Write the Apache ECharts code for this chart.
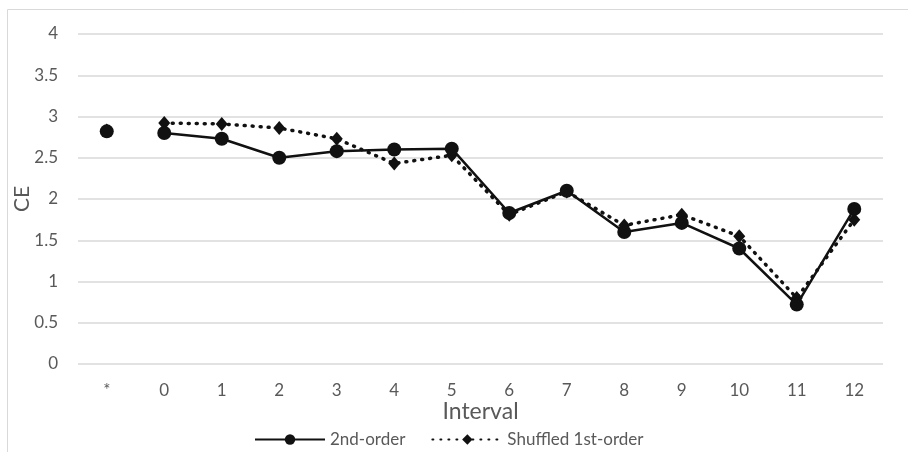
<!DOCTYPE html>
<html>
<head>
<meta charset="utf-8">
<script src="https://cdn.jsdelivr.net/npm/echarts@6/dist/echarts.min.js"></script>
<style>
html,body{margin:0;padding:0;background:#fff;}
#c{width:908px;height:452px;}
</style>
</head>
<body>
<div id="c"></div>
<script>
var categories = ['*', '0', '1', '2', '3', '4', '5', '6', '7', '8', '9', '10', '11', '12'];
var secondOrder = [2.82, 2.80, 2.73, 2.50, 2.58, 2.60, 2.61, 1.83, 2.10, 1.60, 1.71, 1.40, 0.72, 1.88];
var shuffledFirst = [2.83, 2.92, 2.91, 2.86, 2.73, 2.43, 2.53, 1.81, 2.09, 1.68, 1.81, 1.55, 0.80, 1.75];
var yTicks = [0, 0.5, 1, 1.5, 2, 2.5, 3, 3.5, 4];

var FONT = 'Lato';
var GRAY = '#595959';

function mainPart(arr) { return arr.map(function (v, i) { return i === 0 ? '-' : v; }); }
function starPart(arr) { return arr.map(function (v, i) { return i === 0 ? v : '-'; }); }

var chart = echarts.init(document.getElementById('c'), null, {renderer: 'canvas'});
chart.setOption({
  animation: false,
  textStyle: {fontFamily: FONT},
  graphic: [{
    type: 'rect', left: 5, top: 7, z: -1,
    shape: {width: 1000, height: 1000},
    style: {fill: 'none', stroke: '#d9d9d9', lineWidth: 1}
  }],
  grid: {left: 78, right: 25, top: 34, bottom: 88, containLabel: false, outerBoundsMode: 'none'},
  xAxis: {
    type: 'category', data: categories, boundaryGap: true,
    name: 'Interval', nameLocation: 'middle', nameGap: 36, nameMoveOverlap: false,
    nameTextStyle: {fontSize: 23, color: GRAY, fontFamily: FONT},
    axisLine: {show: false}, axisTick: {show: false},
    axisLabel: {fontSize: 17, color: GRAY, margin: 18, fontFamily: FONT}
  },
  yAxis: {
    type: 'value', min: yTicks[0], max: yTicks[yTicks.length - 1], interval: 0.5,
    name: 'CE', nameLocation: 'middle', nameGap: 45, nameRotate: 90, nameMoveOverlap: false,
    nameTextStyle: {fontSize: 21, color: GRAY, fontFamily: FONT},
    axisLine: {show: false}, axisTick: {show: false},
    axisLabel: {fontSize: 17, color: GRAY, margin: 20, fontFamily: FONT},
    splitLine: {lineStyle: {color: '#d9d9d9', width: 1.5}}
  },
  legend: {
    left: 249, top: 426, itemWidth: 70, itemHeight: 13, itemGap: 26,
    textStyle: {fontSize: 17, color: GRAY, fontFamily: FONT},
    data: ['2nd-order', 'Shuffled 1st-order']
  },
  series: [
    {
      name: '2nd-order', type: 'line', data: mainPart(secondOrder),
      symbol: 'circle', symbolSize: 14, showAllSymbol: true,
      itemStyle: {color: '#111'},
      lineStyle: {color: '#111', width: 2.5}, z: 3
    },
    {
      name: 'Shuffled 1st-order', type: 'line', data: mainPart(shuffledFirst),
      symbol: 'diamond', symbolSize: [12, 14], showAllSymbol: true,
      itemStyle: {color: '#111'},
      lineStyle: {color: '#111', width: 3.5, type: [1, 7], cap: 'round'}, z: 2
    },
    {
      name: '2nd-order*', type: 'line', data: starPart(secondOrder),
      symbol: 'circle', symbolSize: 14, showAllSymbol: true,
      itemStyle: {color: '#111'}, lineStyle: {width: 0}, z: 3
    },
    {
      name: 'Shuffled 1st-order*', type: 'line', data: starPart(shuffledFirst),
      symbol: 'diamond', symbolSize: [12, 14], showAllSymbol: true,
      itemStyle: {color: '#111'}, lineStyle: {width: 0}, z: 2
    }
  ]
});
</script>
</body>
</html>
